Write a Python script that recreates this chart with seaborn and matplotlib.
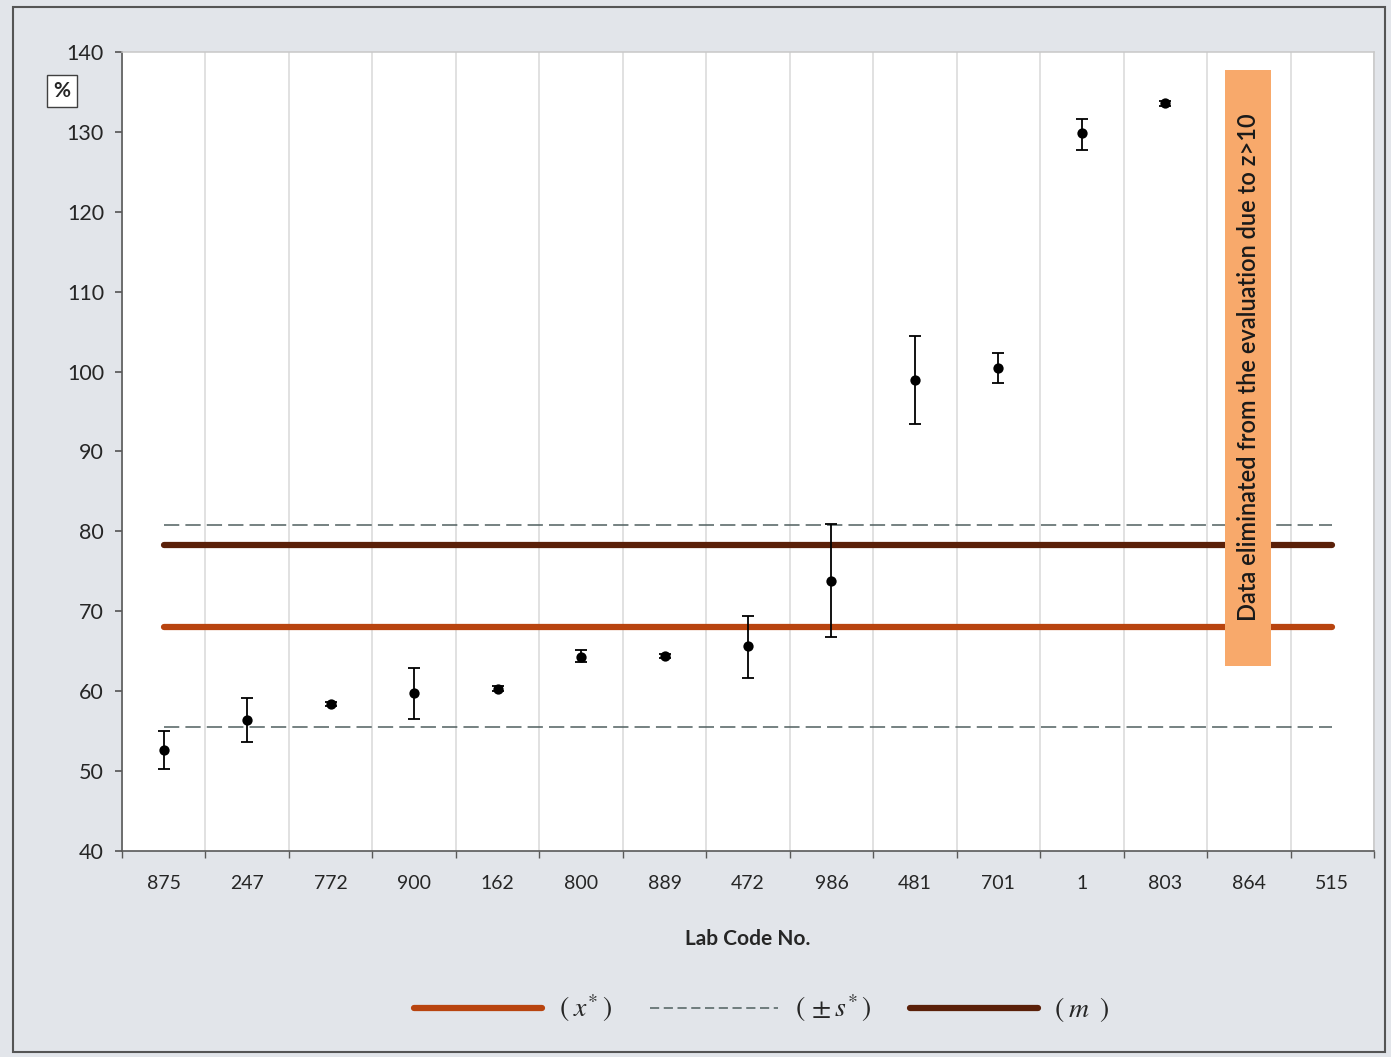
import matplotlib.pyplot as plt
import matplotlib.patches as mpatches
from matplotlib.lines import Line2D
import numpy as np
import seaborn as sns

# lab results, %
labs = ["875", "247", "772", "900", "162", "800", "889", "472",
        "986", "481", "701", "1", "803", "864", "515"]
values = [52.6, 56.4, 58.4, 59.8, 60.3, 64.3, 64.4, 65.7,
          73.8, 98.9, 100.4, 129.9, 133.6, np.nan, np.nan]
err_low = [2.3, 2.8, 0.3, 3.3, 0.3, 0.7, 0.3, 4.0,
           7.0, 5.5, 1.8, 2.2, 0.3, np.nan, np.nan]
err_high = [2.4, 2.7, 0.3, 3.1, 0.3, 0.9, 0.3, 3.7,
            7.1, 5.6, 1.9, 1.7, 0.3, np.nan, np.nan]

x_star = 68.0     # assigned value
s_upper = 80.8    # x* + s*
s_lower = 55.5    # x* - s*
m_value = 78.3    # mean
eliminated_lab = "864"
note = "Data eliminated from the evaluation due to z>10"

sns.set_theme(style="white")
plt.rcParams["font.family"] = ["Lato", "DejaVu Sans"]
plt.rcParams["mathtext.fontset"] = "stix"

bg = "#e2e5ea"
c_xstar = "#b8440f"
c_m = "#5a2009"
c_s = "#4f5f5f"

fig = plt.figure(figsize=(13.91, 10.57), dpi=100, facecolor=bg)
ax = fig.add_axes([0.0877, 0.1949, 0.9001, 0.7559])
ax.set_facecolor("white")

pos = np.arange(len(labs))
n = len(labs)

# reference lines
ax.plot([0, n - 1], [s_upper, s_upper], color=c_s, lw=1.1, ls=(0, (10, 4)), zorder=2)
ax.plot([0, n - 1], [s_lower, s_lower], color=c_s, lw=1.1, ls=(0, (10, 4)), zorder=2)
ax.plot([0, n - 1], [m_value, m_value], color=c_m, lw=4.5, solid_capstyle="round", zorder=2)
ax.plot([0, n - 1], [x_star, x_star], color=c_xstar, lw=4.5, solid_capstyle="round", zorder=2)

# eliminated-data band
i_el = labs.index(eliminated_lab)
ax.add_patch(mpatches.Rectangle((i_el - 0.28, 63.2), 0.55, 74.5,
                                facecolor="#f8a96b", edgecolor="none", zorder=3))
ax.text(i_el, 100.5, note, rotation=90, ha="center", va="center",
        fontsize=17, fontweight="semibold", color="#1a1a1a", zorder=4)

# results with uncertainties
ax.errorbar(pos, values, yerr=[err_low, err_high], fmt="none",
            ecolor="black", elinewidth=1.3, capsize=4.5, capthick=1.3, zorder=5)
sns.scatterplot(x=pos, y=values, color="black", s=55, marker="o",
                edgecolor="black", linewidth=0, ax=ax, zorder=6)

ax.set_xlim(-0.5, n - 0.5)
ax.set_ylim(40, 140)
ax.set_yticks(np.arange(40, 141, 10))
ax.set_xticks(pos)
ax.set_xticklabels(labs)
ax.set_xticks(np.arange(-0.5, n, 1), minor=True)
ax.tick_params(axis="x", which="major", length=0, pad=17, labelsize=14, labelcolor="#262626")
ax.tick_params(axis="x", which="minor", length=5, color="#595959", direction="out", bottom=True)
ax.tick_params(axis="y", length=5, color="#595959", direction="out", left=True,
               labelsize=15.5, labelcolor="#262626", pad=8)
ax.grid(False)
ax.grid(axis="x", which="minor", color="#d9d9d9", lw=1.1)

for side in ["left", "bottom"]:
    ax.spines[side].set_color("#595959")
    ax.spines[side].set_linewidth(1.2)
for side in ["top", "right"]:
    ax.spines[side].set_color("#c8c8c8")
    ax.spines[side].set_linewidth(1.1)

ax.set_xlabel("Lab Code No.", fontsize=15, fontweight="bold", color="#262626", labelpad=27)

# unit label
fig.text(0.0445, 0.914, "%", fontsize=15, fontweight="bold", color="#262626",
         ha="center", va="center",
         bbox=dict(boxstyle="square,pad=0.3", facecolor="white", edgecolor="#404040", lw=1))

handles = [
    Line2D([], [], color=c_xstar, lw=4.5),
    Line2D([], [], color=c_s, lw=1.1, ls=(0, (6, 3))),
    Line2D([], [], color=c_m, lw=4.5),
]
labels = [r"$(\;x^{*}\,)$", r"$(\,\pm s^{*}\,)$", r"$(\;m\;\;)$"]
fig.legend(handles, labels, loc="center", bbox_to_anchor=(0.548, 0.046), ncol=3,
           frameon=False, fontsize=20, handlelength=4.6, handletextpad=0.6, columnspacing=1.4)

# outer frame
fig.patches.append(mpatches.Rectangle((0.009, 0.005), 0.987, 0.988, transform=fig.transFigure,
                                      fill=False, edgecolor="#555555", lw=1.5))

fig.savefig("out.png", dpi=100, facecolor=bg)
